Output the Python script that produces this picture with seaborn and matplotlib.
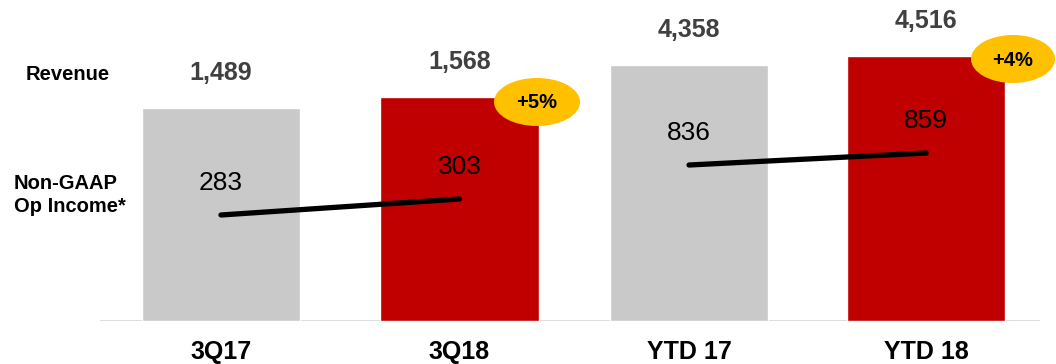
import matplotlib
matplotlib.use("Agg")
import matplotlib.pyplot as plt
from matplotlib.patches import Ellipse
import seaborn as sns

# ---- data ----
cats_q = ["3Q17", "3Q18"]
rev_q = [1489, 1568]
op_q = [283, 303]
cats_ytd = ["YTD 17", "YTD 18"]
rev_ytd = [4358, 4516]
op_ytd = [836, 859]
growth = ["+5%", "+4%"]

GRAY = "#C9C9C9"
RED = "#C00000"
TXT = "#404040"

sns.set_theme(style="white")
plt.rcParams["font.family"] = ["Liberation Sans", "DejaVu Sans"]

W, H = 1056, 364
fig = plt.figure(figsize=(W / 100, H / 100), dpi=100)

bottom = 43 / H
height = 321 / H
ax1 = fig.add_axes([100 / W, bottom, 474 / W, height])
ax2 = fig.add_axes([574 / W, bottom, 466 / W, height])

panels = [
    (ax1, cats_q, rev_q, op_q, (-0.507, 1.48), (0, 2244), (150.5, 551.75)),
    (ax2, cats_ytd, rev_ytd, op_ytd, (-0.485, 1.48), (0, 5465), (537, 1152.3)),
]

for ax, cats, rev, op, xl, yl, yl_line in panels:
    sns.barplot(x=cats, y=rev, hue=cats, palette=[GRAY, RED], legend=False,
                width=0.664, saturation=1, ax=ax)
    ax.set_xlim(*xl)
    ax.set_ylim(*yl)
    ax.axhline(0, color="#D9D9D9", lw=2, zorder=0.5)
    for s in ax.spines.values():
        s.set_visible(False)
    ax.set_yticks([])
    ax.set_ylabel("")
    ax.set_xlabel("")
    ax.tick_params(axis="x", length=0, pad=14, labelsize=18)
    for lab in ax.get_xticklabels():
        lab.set_fontweight("bold")
        lab.set_color("black")
    for i, v in enumerate(rev):
        ax.annotate(f"{v:,}", (i, v), xytext=(0, 25), textcoords="offset points",
                    ha="center", va="center", fontsize=18, fontweight="bold", color=TXT)

    axt = ax.twinx()
    sns.lineplot(x=[0, 1], y=op, ax=axt, color="black", lw=3.8,
                 solid_capstyle="round")
    axt.set_ylim(*yl_line)
    axt.set_xlim(*xl)
    axt.set_yticks([])
    axt.set_ylabel("")
    for s in axt.spines.values():
        s.set_visible(False)
    for i, v in enumerate(op):
        axt.annotate(f"{v:,}", (i, v), xytext=(0, 23), textcoords="offset points",
                     ha="center", va="center", fontsize=19, color="black")

# growth bubbles
bubbles = [((537, 102), 86, 48), ((1013, 59), 84, 48)]
for ((cx, cy), bw, bh), txt in zip(bubbles, growth):
    e = Ellipse((cx / W, 1 - cy / H), bw / W, bh / H, transform=fig.transFigure,
                facecolor="#FFC000", edgecolor="none", zorder=10)
    fig.add_artist(e)
    fig.text(cx / W, 1 - (cy + 1) / H, txt, ha="center", va="center",
             fontsize=14.5, fontweight="bold", color="black", zorder=11)

# row labels
fig.text(68 / W, 1 - 75 / H, "Revenue", ha="center", va="center",
         fontsize=14.5, fontweight="bold", color="black")
fig.text(14 / W, 1 - 195 / H, "Non-GAAP\nOp Income*", ha="left", va="center",
         fontsize=14.5, fontweight="bold", color="black", linespacing=1.3)

fig.savefig("out.png", dpi=100)
